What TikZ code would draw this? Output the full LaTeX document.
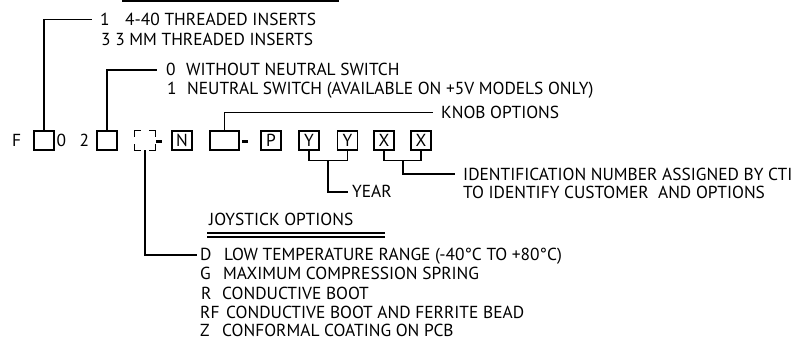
\documentclass[tikz,border=0pt]{standalone}
\usepackage{fontspec}
\setmainfont{PT Sans}
\begin{document}
\begin{tikzpicture}[x=1pt,y=-1pt,
  txt/.style={anchor=base west, inner sep=0pt, font=\fontsize{17.4}{20}\selectfont},
  ln/.style={line width=1.6pt},
  bx/.style={draw, line width=1.2pt, minimum width=20pt, minimum height=19pt, inner sep=0pt, font=\fontsize{17.4}{20}\selectfont},
  hy/.style={fill, minimum width=6pt, minimum height=3pt, inner sep=0pt},
]
\useasboundingbox (0,0) rectangle (793,341);
% top rule (cut off heading underline)
\coordinate (r1) at (122,1);
\coordinate (r2) at (339,1);
\draw[line width=2pt] (r1) -- (r2);

% code row
\node[txt] (tF) at (12,146.5) {F};
\node[bx] (bF) at (44,140.5) {};
\node[txt] (t0) at (56.5,146.5) {0};
\node[txt] (t2c) at (79.5,146.5) {2};
\node[bx] (b2) at (107,140.5) {};
\node[minimum width=20pt, minimum height=19pt, inner sep=0pt] (bJ) at (145,140.5) {};
\draw[line width=1.2pt] ([yshift=-6pt]bJ.north west) -- (bJ.north west) -- ([xshift=6pt]bJ.north west);
\draw[line width=1.2pt] ([xshift=-6pt]bJ.north east) -- (bJ.north east) -- ([yshift=-6pt]bJ.north east);
\draw[line width=1.2pt] ([yshift=6pt]bJ.south east) -- (bJ.south east) -- ([xshift=-6pt]bJ.south east);
\draw[line width=1.2pt] ([xshift=6pt]bJ.south west) -- (bJ.south west) -- ([yshift=6pt]bJ.south west);
\node[hy] (h1) at (159,141) {};
\node[bx] (bN) at (182,140.5) {N};
\node[bx, minimum width=29pt] (bK) at (224.5,140.5) {};
\node[hy] (h2) at (245,141) {};
\node[bx] (bP) at (271,140.5) {P};
\node[bx] (bY1) at (309,140.5) {Y};
\node[bx] (bY2) at (347.5,140.5) {Y};
\node[bx] (bX1) at (384,140.5) {X};
\node[bx] (bX2) at (421,140.5) {X};

% thread inserts
\node[txt] (t1a) at (100,25.5) {1};
\node[txt] (t1b) at (125,25.5) {4-40 THREADED INSERTS};
\node[txt] (t2) at (101,45.5) {3 3 MM THREADED INSERTS};
\coordinate (k1) at (92,19.5);
\draw[ln] (bF.north) |- (k1);

% neutral switch
\node[txt] (t3a) at (166,75.5) {0};
\node[txt] (t3b) at (186,75.5) {WITHOUT NEUTRAL SWITCH};
\node[txt] (t4a) at (167,94) {1};
\node[txt] (t4b) at (187,94) {NEUTRAL SWITCH (AVAILABLE ON +5V MODELS ONLY)};
\coordinate (k2) at (157,70);
\draw[ln] (b2.north) |- (k2);

% knob options
\node[txt] (tk) at (441,118) {KNOB OPTIONS};
\coordinate (k3) at (433,112.5);
\draw[ln] (bK.north) |- (k3);

% year
\coordinate (yj) at (328,160.5);
\coordinate (k5) at (348,192);
\draw[ln] (bY1.south) |- (yj) -| (bY2.south);
\draw[ln] (yj) |- (k5);
\node[txt] (ty) at (352,197) {YEAR};

% identification
\coordinate (xj) at (403,160.5);
\coordinate (k6) at (455,174);
\draw[ln] (bX1.south) |- (xj) -| (bX2.south);
\draw[ln] (xj) |- (k6);
\node[txt] (ti1) at (463,180) {IDENTIFICATION NUMBER ASSIGNED BY CTI};
\node[txt] (ti2) at (463,198) {TO IDENTIFY CUSTOMER\ \ AND OPTIONS};

% joystick options
\node[txt] (tj) at (209,225) {JOYSTICK OPTIONS};
\coordinate (u1) at (207,233); \coordinate (u2) at (385,233);
\coordinate (u3) at (207,237); \coordinate (u4) at (385,237);
\draw[line width=1.5pt] (u1) -- (u2);
\draw[line width=1.5pt] (u3) -- (u4);
\coordinate (k4) at (197,255);
\draw[ln] (bJ.south) |- (k4);
\node[txt] (tDa) at (200,260) {D};
\node[txt] (tDb) at (224,260) {LOW TEMPERATURE RANGE (-40°C TO +80°C)};
\node[txt] (tGa) at (200,279) {G};
\node[txt] (tGb) at (223,279) {MAXIMUM COMPRESSION SPRING};
\node[txt] (tRa) at (201,299) {R};
\node[txt] (tRb) at (222,299) {CONDUCTIVE BOOT};
\node[txt] (tFa) at (200,318.5) {RF};
\node[txt] (tFb) at (226,318.5) {CONDUCTIVE BOOT AND FERRITE BEAD};
\node[txt] (tZa) at (200,336.5) {Z};
\node[txt] (tZb) at (222,336.5) {CONFORMAL COATING ON PCB};
\end{tikzpicture}
\end{document}
